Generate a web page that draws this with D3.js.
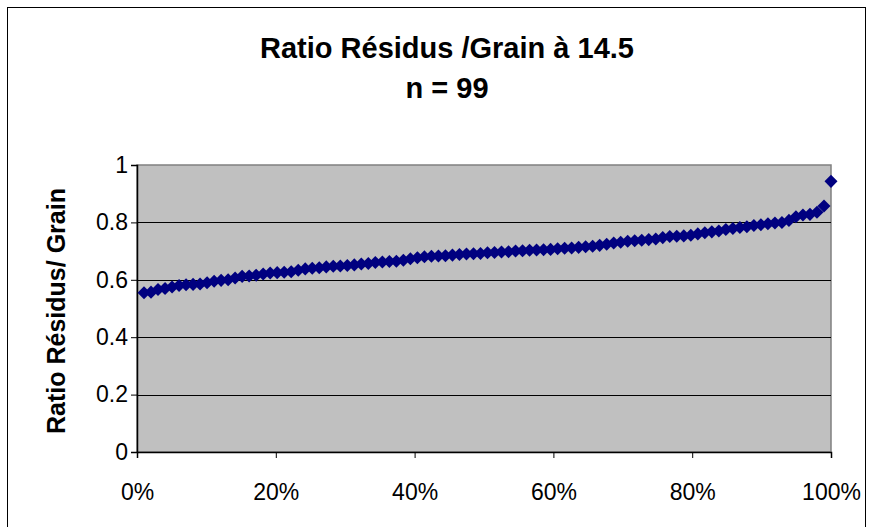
<!DOCTYPE html>
<html>
<head>
<meta charset="utf-8">
<script src="https://cdn.jsdelivr.net/npm/d3@7"></script>
<style>
  body { margin: 0; background: #fff; }
  text { font-family: "Liberation Sans", Arial, sans-serif; }
</style>
</head>
<body>
<svg width="873" height="527"></svg>
<script>
const title = "Ratio Résidus /Grain à 14.5";
const subtitle = "n = 99";
const yTitle = "Ratio Résidus/ Grain";

// sorted ratios (x = rank / 99)
const ratios = [
  0.555, 0.557, 0.566, 0.570, 0.575, 0.580, 0.583, 0.584, 0.585, 0.590, 0.595, 0.598, 0.600, 0.606,
  0.612, 0.613, 0.616, 0.620, 0.624, 0.625, 0.626, 0.628, 0.633, 0.638, 0.640, 0.642, 0.645, 0.647,
  0.648, 0.650, 0.652, 0.655, 0.657, 0.660, 0.662, 0.664, 0.665, 0.668, 0.673, 0.677, 0.680, 0.682,
  0.683, 0.684, 0.686, 0.688, 0.690, 0.691, 0.692, 0.694, 0.695, 0.697, 0.698, 0.700, 0.701, 0.703,
  0.704, 0.705, 0.706, 0.708, 0.710, 0.711, 0.713, 0.715, 0.717, 0.720, 0.724, 0.728, 0.731, 0.734,
  0.736, 0.738, 0.740, 0.742, 0.747, 0.751, 0.752, 0.753, 0.755, 0.760, 0.764, 0.767, 0.770, 0.775, 0.779,
  0.782, 0.785, 0.789, 0.792, 0.795, 0.798, 0.800,
  0.807, 0.820, 0.826, 0.828, 0.835, 0.857, 0.943
];
const yTicks = [0, 0.2, 0.4, 0.6, 0.8, 1];
const xTicks = [0, 0.2, 0.4, 0.6, 0.8, 1];

const svg = d3.select("svg");

// outer chart frame
svg.append("rect")
  .attr("x", 7.5).attr("y", 7.5)
  .attr("width", 858).attr("height", 530)
  .attr("fill", "#fff").attr("stroke", "#000").attr("stroke-width", 1);

const plotLeft = 137, plotRight = 831, plotTop = 165, plotBottom = 452;

const x = d3.scaleLinear().domain([0, 1]).range([plotLeft, plotRight]);
const y = d3.scaleLinear().domain([0, 1]).range([plotBottom, plotTop]);

// plot area
svg.append("rect")
  .attr("x", plotLeft).attr("y", plotTop)
  .attr("width", plotRight - plotLeft).attr("height", plotBottom - plotTop)
  .attr("fill", "#c0c0c0")
  .attr("stroke", "#808080").attr("stroke-width", 1.5);

// gridlines
svg.append("g")
  .selectAll("line")
  .data(yTicks.filter(d => d > 0 && d < 1))
  .enter().append("line")
  .attr("x1", plotLeft).attr("x2", plotRight)
  .attr("y1", d => Math.round(y(d)) + 0.5).attr("y2", d => Math.round(y(d)) + 0.5)
  .attr("stroke", "#000").attr("stroke-width", 1);

// y axis
const yAxis = svg.append("g")
  .attr("transform", "translate(" + plotLeft + ",0)")
  .call(d3.axisLeft(y).tickValues(yTicks).tickFormat(d3.format("")).tickSize(6).tickPadding(3));
yAxis.select(".domain").attr("stroke", "#000").attr("stroke-width", 1.5);
yAxis.selectAll("text").style("font-size", "23px").attr("fill", "#000");

// x axis
const xAxis = svg.append("g")
  .attr("transform", "translate(0," + plotBottom + ")")
  .call(d3.axisBottom(x).tickValues(xTicks).tickFormat(d3.format(".0%")).tickSize(6).tickPadding(26));
xAxis.select(".domain").attr("stroke", "#000").attr("stroke-width", 1.5);
xAxis.selectAll("text").style("font-size", "23px").attr("fill", "#000");

// points
const diamond = d3.symbol().type(d3.symbolSquare).size(85);
svg.append("g")
  .selectAll("path")
  .data(ratios)
  .enter().append("path")
  .attr("d", diamond)
  .attr("transform", (d, i) => "translate(" + x((i + 1) / ratios.length) + "," + y(d) + ") rotate(45)")
  .attr("fill", "#000080");

// titles
svg.append("text")
  .attr("x", 447).attr("y", 58)
  .attr("text-anchor", "middle")
  .style("font-size", "29px").style("font-weight", "bold")
  .text(title);

svg.append("text")
  .attr("x", 447).attr("y", 98)
  .attr("text-anchor", "middle")
  .style("font-size", "29px").style("font-weight", "bold")
  .text(subtitle);

svg.append("text")
  .attr("transform", "translate(65,311) rotate(-90)")
  .attr("text-anchor", "middle")
  .style("font-size", "25px").style("font-weight", "bold")
  .text(yTitle);
</script>
</body>
</html>
